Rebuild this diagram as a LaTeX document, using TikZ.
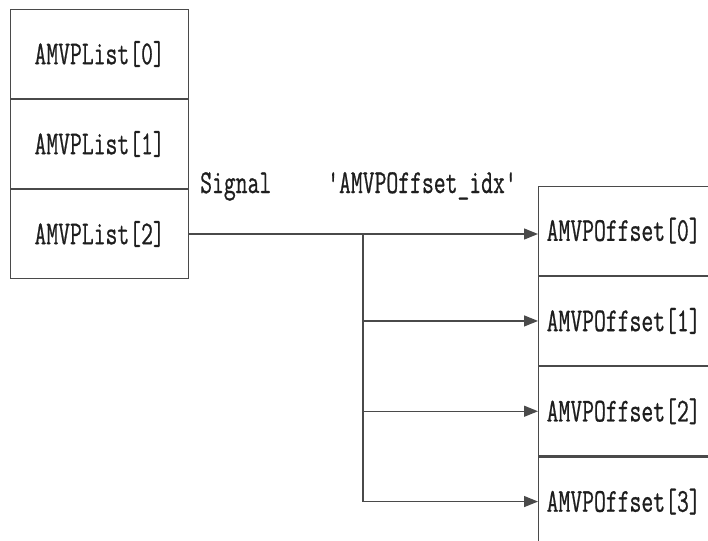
\documentclass[tikz,border=0pt]{standalone}
\usepackage{fontspec}
\setmonofont[FakeBold=0.8]{Latin Modern Mono}
\usetikzlibrary{arrows.meta}
\definecolor{linec}{HTML}{4A4A4A}
\definecolor{txtc}{HTML}{1E1E1E}
\newcommand{\mytxt}[1]{\scalebox{1}[1.45]{\fontsize{23}{23}\selectfont\ttfamily #1}}
\begin{document}
\begin{tikzpicture}[x=1pt,y=-1pt,
  ln/.style={draw=linec, line width=1.3pt},
  cellL/.style={ln, text=txtc, minimum width=178pt, minimum height=88.7pt, inner sep=0pt, anchor=north west},
  cellR/.style={ln, text=txtc, minimum width=182pt, minimum height=89pt, text width=166pt, inner xsep=8pt, inner ysep=0pt, align=left, anchor=north west},
  lbl/.style={text=txtc, inner sep=0pt, anchor=base west},
  arr/.style={ln, -{Triangle[length=14pt,width=11pt]}}]
\useasboundingbox (0,0) rectangle (708,540);
\fill[white] (0,0) rectangle (708,540);
\clip (0,0) rectangle (708,540);
\node[cellL] (l0) at (10,9) {\mytxt{AMVPList[0]}};
\node[cellL] (l1) at (l0.south west) {\mytxt{AMVPList[1]}};
\node[cellL] (l2) at (l1.south west) {\mytxt{AMVPList[2]}};
\node[cellR] (o0) at (538,185.5) {\mytxt{AMVPOffset[0]}};
\node[cellR] (o1) at (o0.south west) {\mytxt{AMVPOffset[1]}};
\node[cellR] (o2) at (o1.south west) {\mytxt{AMVPOffset[2]}};
\node[cellR] (o3) at (o2.south west) {\mytxt{AMVPOffset[3]}};
\node[lbl] (sig) at (200,193) {\mytxt{Signal}};
\node[lbl] (idx) at (327,193) {\mytxt{\textquotesingle AMVPOffset\_idx\textquotesingle}};
\coordinate (t) at (363,0);
\draw[arr] (l2.east) -- (l2.east -| o0.west);
\draw[ln] (t |- l2.east) -- (t |- o3.west);
\draw[arr] (t |- o1.west) -- (o1.west);
\draw[arr] (t |- o2.west) -- (o2.west);
\draw[arr] (t |- o3.west) -- (o3.west);
\end{tikzpicture}
\end{document}
